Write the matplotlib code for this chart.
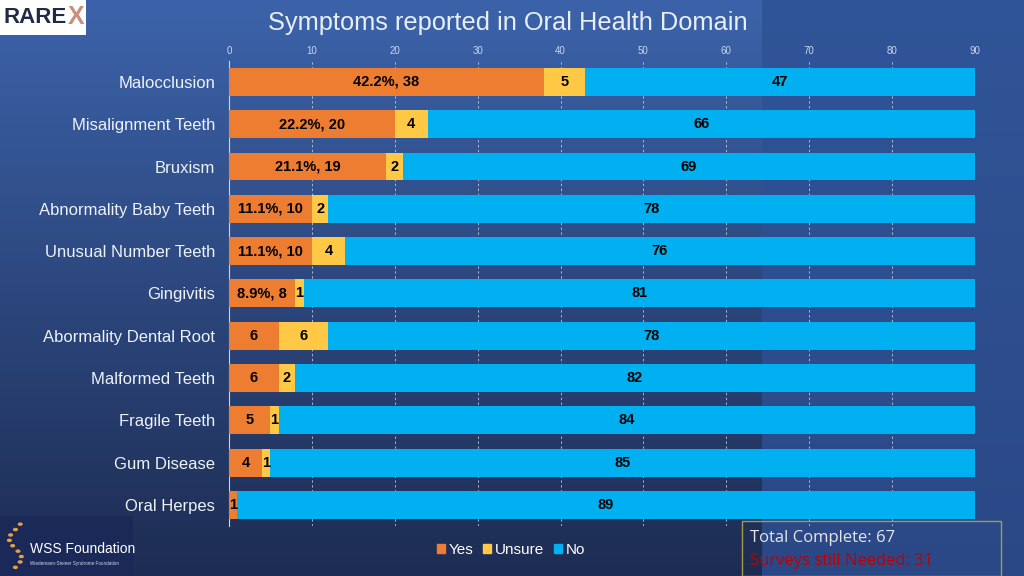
import numpy as np
import matplotlib.pyplot as plt
from matplotlib.patches import Patch, Rectangle

plt.rcParams['font.family'] = ['Liberation Sans', 'DejaVu Sans']

categories = ["Malocclusion", "Misalignment Teeth", "Bruxism", "Abnormality Baby Teeth",
              "Unusual Number Teeth", "Gingivitis", "Abormality Dental Root", "Malformed Teeth",
              "Fragile Teeth", "Gum Disease", "Oral Herpes"]
yes = [38, 20, 19, 10, 10, 8, 6, 6, 5, 4, 1]
unsure = [5, 4, 2, 2, 4, 1, 6, 2, 1, 1, 0]
no = [47, 66, 69, 78, 76, 81, 78, 82, 84, 85, 89]
yes_labels = ["42.2%, 38", "22.2%, 20", "21.1%, 19", "11.1%, 10", "11.1%, 10", "8.9%, 8",
              "6", "6", "5", "4", "1"]
xticks = [0, 10, 20, 30, 40, 50, 60, 70, 80, 90]

c_yes, c_unsure, c_no = "#ED7D31", "#FFC845", "#00B0F0"

fig = plt.figure(figsize=(10.24, 5.76), dpi=100)

# background gradient (two panels like the slide)
bg = fig.add_axes([0, 0, 1, 1], zorder=-10)
h, w = 576, 1024
t = np.linspace(0, 1, h)[:, None]
left_top, left_bot = np.array([0x3c, 0x63, 0xaa]) / 255, np.array([0x1d, 0x2c, 0x52]) / 255
right_top, right_bot = np.array([0x30, 0x55, 0x98]) / 255, np.array([0x2b, 0x48, 0x86]) / 255
img = np.zeros((h, w, 3))
split = 762
img[:, :split] = (left_top * (1 - t) + left_bot * t)[:, None, :]
img[:, split:] = (right_top * (1 - t) + right_bot * t)[:, None, :]
bg.imshow(img, aspect='auto', extent=[0, 1, 0, 1])
bg.set_xlim(0, 1)
bg.set_ylim(0, 1)
bg.axis('off')

ax = fig.add_axes([0.2236, 0.0868, 0.9521 - 0.2236, 0.8945 - 0.0868])
ax.set_facecolor('none')

y = np.arange(len(categories))
bh = 0.66
ax.barh(y, yes, height=bh, color=c_yes, zorder=3)
ax.barh(y, unsure, left=yes, height=bh, color=c_unsure, zorder=3)
left_no = [a + b for a, b in zip(yes, unsure)]
ax.barh(y, no, left=left_no, height=bh, color=c_no, zorder=3)

lab_kw = dict(ha='center', va='center', fontsize=10.5, fontweight='bold', color='black', zorder=4)
for i in range(len(categories)):
    ax.text(yes[i] / 2, y[i], yes_labels[i], **lab_kw)
    if unsure[i] > 0:
        ax.text(yes[i] + unsure[i] / 2, y[i], str(unsure[i]), **lab_kw)
    ax.text(left_no[i] + no[i] / 2, y[i], str(no[i]), **lab_kw)

ax.set_xlim(0, 90)
ax.set_ylim(len(categories) - 0.5, -0.5)
ax.set_xticks(xticks)
ax.xaxis.tick_top()
ax.tick_params(axis='x', colors='#c9d6ef', labelsize=7, length=0, pad=3.5)
ax.set_yticks(y)
ax.set_yticklabels(categories, fontsize=12, color='#eef2fa')
ax.tick_params(axis='y', length=0, pad=10)
ax.grid(axis='x', color='#d9e2f3', linestyle=(0, (2.5, 2.5)), linewidth=0.7, alpha=0.7, zorder=1)
for s in ['top', 'right', 'bottom']:
    ax.spines[s].set_visible(False)
ax.spines['left'].set_color('#c9d6ef')
ax.spines['left'].set_linewidth(0.8)

fig.text(0.496, 0.960, "Symptoms reported in Oral Health Domain", ha='center', va='center',
         fontsize=18.3, color='#e8eefa')

handles = [Patch(color=c_yes, label="Yes"), Patch(color=c_unsure, label="Unsure"),
           Patch(color=c_no, label="No")]
fig.legend(handles=handles, loc='center', bbox_to_anchor=(0.499, 0.045), ncol=3, frameon=False,
           fontsize=11, labelcolor='white', handlelength=0.55, handleheight=0.55,
           handletextpad=0.25, columnspacing=0.6)

# info box
fig.patches.append(Rectangle((0.7246, 0.0), 0.2529, 0.0955, transform=fig.transFigure,
                             facecolor='none', edgecolor='#a8984a', linewidth=1.0))
fig.text(0.732, 0.066, "Total Complete: 67", fontsize=12, color='#e6e6e6', va='center',
         family=['Open Sans', 'DejaVu Sans'])
fig.text(0.732, 0.026, "Surveys still Needed: 31", fontsize=12, color='#c00000', va='center',
         family=['Open Sans', 'DejaVu Sans'])

# logos
fig.patches.append(Rectangle((0, 1 - 35 / 576), 86 / 1024, 35 / 576, transform=fig.transFigure,
                             facecolor='white', edgecolor='none'))
fig.text(0.003, 0.970, "RARE", fontsize=16, fontweight='bold', color='#1f2a44', va='center')
fig.text(0.066, 0.970, "X", fontsize=18, fontweight='bold', color='#c98f7a', va='center')
fig.patches.append(Rectangle((0, 0), 133 / 1024, 60 / 576, transform=fig.transFigure,
                             facecolor='#1a2957', edgecolor='none'))
fig.text(0.029, 0.047, "WSS Foundation", fontsize=10, color='white', va='center')
fig.text(0.029, 0.021, "Wiedemann-Steiner Syndrome Foundation", fontsize=3.3, color='#d0d6e6',
         va='center')
helix_y = np.linspace(0.015, 0.09, 9)
for k, yy in enumerate(helix_y):
    dx = 0.006 * np.sin(k * 0.9)
    fig.patches.append(plt.Circle((0.015 + dx, yy), 0.0018, transform=fig.transFigure,
                                  color='#e8a040'))

fig.savefig("out.png", dpi=100)
